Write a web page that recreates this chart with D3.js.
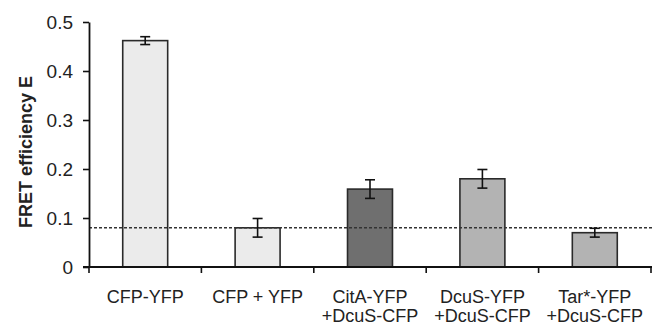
<!DOCTYPE html>
<meta charset="utf-8">
<style>
    body { margin: 0; background: #fff; }
    svg text { font-family: "Liberation Sans", Arial, sans-serif; fill: #222; }
</style>
<div id="my_dataviz"></div>
<script src="https://d3js.org/d3.v7.min.js"></script>
<script>

    // data
    var categories = ["CFP-YFP", "CFP + YFP", "CitA-YFP\n+DcuS-CFP", "DcuS-YFP\n+DcuS-CFP", "Tar*-YFP\n+DcuS-CFP"];
    var efficiency = [0.462, 0.080, 0.159, 0.180, 0.070];
    var errors = [0.008, 0.019, 0.019, 0.019, 0.009];
    var threshold = 0.08;
    var yTicks = [0, 0.1, 0.2, 0.3, 0.4, 0.5];

    var W = 652, H = 326;
    var margin = { left: 89, right: 651, top: 22, bottom: 267 };

    var svg = d3.select("#my_dataviz")
        .append("svg")
        .attr("width", W)
        .attr("height", H);

    var x = d3.scaleBand()
        .domain(categories)
        .range([margin.left, margin.right])
        .padding(0);

    var y = d3.scaleLinear()
        .domain([0, 0.5])
        .range([margin.bottom, margin.top]);

    var fill = d3.scaleOrdinal()
        .domain(categories)
        .range(["#ebebeb", "#ebebeb", "#6f6f6f", "#b3b3b3", "#b3b3b3"]);

    var barW = x.bandwidth() * 0.4;
    var cx = function (d) { return x(d) + x.bandwidth() / 2; };

    // bars
    svg.selectAll("rect.bar")
        .data(categories)
        .enter()
        .append("rect")
        .attr("class", "bar")
        .attr("x", function (d) { return cx(d) - barW / 2; })
        .attr("width", barW)
        .attr("y", function (d, i) { return y(efficiency[i]); })
        .attr("height", function (d, i) { return y(0) - y(efficiency[i]); })
        .attr("fill", function (d) { return fill(d); })
        .attr("stroke", "#2a2a2a")
        .attr("stroke-width", 1.6);

    // threshold line
    svg.append("line")
        .attr("x1", margin.left)
        .attr("x2", W)
        .attr("y1", y(threshold))
        .attr("y2", y(threshold))
        .attr("stroke", "#333")
        .attr("stroke-width", 1.4)
        .attr("stroke-dasharray", "3,2");

    // error bars
    var eb = svg.selectAll("g.err")
        .data(categories)
        .enter()
        .append("g")
        .attr("class", "err")
        .attr("stroke", "#111")
        .attr("stroke-width", 1.6);
    eb.append("line")
        .attr("x1", cx)
        .attr("x2", cx)
        .attr("y1", function (d, i) { return y(efficiency[i] + errors[i]); })
        .attr("y2", function (d, i) { return y(efficiency[i] - errors[i]); });
    [1, -1].forEach(function (s) {
        eb.append("line")
            .attr("x1", function (d) { return cx(d) - 5; })
            .attr("x2", function (d) { return cx(d) + 5; })
            .attr("y1", function (d, i) { return y(efficiency[i] + s * errors[i]); })
            .attr("y2", function (d, i) { return y(efficiency[i] + s * errors[i]); });
    });

    // Y axis
    var yAxis = svg.append("g")
        .attr("transform", "translate(" + margin.left + ",0)")
        .call(d3.axisLeft(y).tickValues(yTicks).tickSize(6).tickSizeOuter(0)
            .tickFormat(function (d) { return d === 0 ? "0" : d3.format(".1f")(d); }));
    yAxis.select(".domain").attr("stroke", "#111").attr("stroke-width", 1.8);
    yAxis.selectAll(".tick line").attr("stroke", "#111").attr("stroke-width", 1.6);
    yAxis.selectAll("text")
        .attr("x", -16)
        .style("font-size", "19px")
        .attr("fill", "#333");

    // X axis (ticks at the category boundaries)
    var bounds = categories.map(function (d) { return x(d); }).concat([margin.right]);
    svg.append("line")
        .attr("x1", margin.left - 6).attr("x2", W)
        .attr("y1", margin.bottom).attr("y2", margin.bottom)
        .attr("stroke", "#111").attr("stroke-width", 1.8);
    svg.selectAll("line.xtick")
        .data(bounds)
        .enter()
        .append("line")
        .attr("class", "xtick")
        .attr("x1", function (d) { return d; })
        .attr("x2", function (d) { return d; })
        .attr("y1", margin.bottom)
        .attr("y2", margin.bottom + 6)
        .attr("stroke", "#111")
        .attr("stroke-width", 1.6);

    var labels = svg.selectAll("text.cat")
        .data(categories)
        .enter()
        .append("text")
        .attr("class", "cat")
        .attr("text-anchor", "middle")
        .style("font-size", "18px")
        .attr("fill", "#333")
        .attr("transform", function (d) { return "translate(" + cx(d) + ",303)"; });
    labels.selectAll("tspan")
        .data(function (d) { return d.split("\n"); })
        .enter()
        .append("tspan")
        .attr("x", 0)
        .attr("dy", function (d, i) { return i === 0 ? 0 : 19; })
        .text(function (d) { return d; });

    // y axis label
    svg.append("text")
        .attr("transform", "translate(32,152) rotate(-90)")
        .attr("text-anchor", "middle")
        .style("font-size", "18px")
        .style("font-weight", "bold")
        .attr("fill", "#222")
        .text("FRET efficiency E");

</script>
